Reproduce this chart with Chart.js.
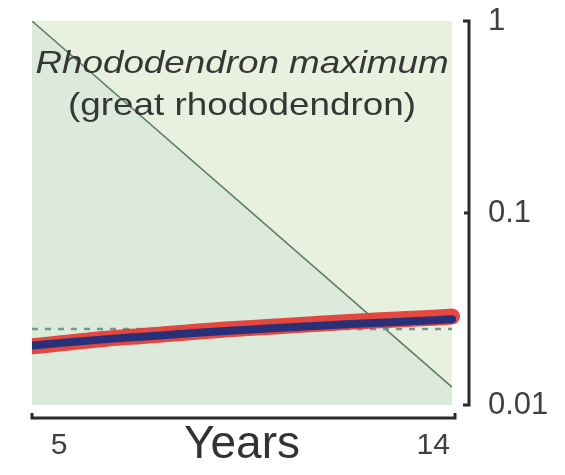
<!DOCTYPE html>
<html>
<head>
<meta charset="utf-8">
<title>Rhododendron maximum</title>
<script src="https://cdn.jsdelivr.net/npm/chart.js@4/dist/chart.umd.min.js"></script>
<style>
  html, body { margin: 0; padding: 0; background: #ffffff; }
  #wrap { width: 565px; height: 475px; position: relative; }
</style>
</head>
<body>
<div id="wrap"><canvas id="chart" width="565" height="475"></canvas></div>
<script>
// Years sampled along the horizontal axis
const years = [4.35, 5, 6, 7, 8, 9, 10, 11, 12, 13, 14, 14.45];
// Red curve (wide band)
const redRate = [0.0202, 0.0209, 0.0220, 0.0229, 0.0238, 0.0247, 0.0255, 0.0263, 0.0271, 0.0278, 0.0285, 0.0289];
// Navy curve (drawn inside the red band)
const navyRate = [0.0204, 0.0210, 0.0219, 0.0227, 0.0235, 0.0243, 0.0250, 0.0257, 0.0264, 0.0270, 0.0276, 0.0280];
// Dashed reference level
const referenceLevel = 0.0249;
// Straight (exponential) decline across the year range
const declineYears = [4.35, 14.45];
const declineValues = [1.0, 0.0124];
// Axis ticks
const xTicks = [5, 14];
const yTicks = [1, 0.1, 0.01];
const yTickLabels = ['1', '0.1', '0.01'];
// Plot annotation
const speciesName = 'Rhododendron maximum';
const commonName = '(great rhododendron)';
const xTitle = 'Years';

const FONT = "'Liberation Sans', Arial, Helvetica, sans-serif";
const AXIS_COLOR = '#2a2a2a';

const toPoints = (xs, ys) => xs.map((x, i) => ({ x: x, y: ys[i] }));

// Pale green panel behind the data
const panelBackground = {
  id: 'panelBackground',
  beforeDatasetsDraw(chart) {
    const { ctx, chartArea: a } = chart;
    ctx.save();
    ctx.fillStyle = '#e8f1df';
    ctx.fillRect(a.left, a.top, a.right - a.left, a.bottom - a.top);
    ctx.restore();
  }
};

// Axis lines set slightly apart from the panel, with end caps
const detachedAxes = {
  id: 'detachedAxes',
  afterDraw(chart) {
    const { ctx, chartArea: a } = chart;
    const xs = chart.scales.x, ys = chart.scales.y;
    ctx.save();
    ctx.strokeStyle = AXIS_COLOR;
    ctx.lineWidth = 3;
    ctx.lineCap = 'butt';
    ctx.lineJoin = 'miter';

    // bottom axis
    const yb = a.bottom + 13;
    const x0 = xs.getPixelForValue(xs.min);
    const x1 = xs.getPixelForValue(xs.max) + 3;
    ctx.beginPath();
    ctx.moveTo(x0, yb - 5);
    ctx.lineTo(x0, yb);
    ctx.lineTo(x1, yb);
    ctx.lineTo(x1, yb - 5);
    ctx.stroke();

    // right axis
    const xr = a.right + 17;
    const yTop = ys.getPixelForValue(yTicks[0]);
    const yBot = ys.getPixelForValue(yTicks[yTicks.length - 1]);
    ctx.beginPath();
    ctx.moveTo(xr - 6, yTop);
    ctx.lineTo(xr, yTop);
    ctx.lineTo(xr, yBot);
    ctx.lineTo(xr - 6, yBot);
    ctx.stroke();
    for (let i = 1; i < yTicks.length - 1; i++) {
      const yy = ys.getPixelForValue(yTicks[i]);
      ctx.beginPath();
      ctx.moveTo(xr - 5, yy);
      ctx.lineTo(xr, yy);
      ctx.stroke();
    }
    ctx.restore();
  }
};

// Species name inside the panel
const speciesLabel = {
  id: 'speciesLabel',
  afterDatasetsDraw(chart) {
    const { ctx, chartArea: a } = chart;
    const cx = (a.left + a.right) / 2;
    ctx.save();
    ctx.fillStyle = '#363636';
    ctx.textAlign = 'center';
    ctx.textBaseline = 'alphabetic';

    ctx.save();
    ctx.translate(cx, a.top + 52);
    ctx.scale(1.15, 1);
    ctx.font = 'italic 32px ' + FONT;
    ctx.fillText(speciesName, 0, 0);
    ctx.restore();

    ctx.save();
    ctx.translate(cx, a.top + 94);
    ctx.scale(1.15, 1);
    ctx.font = '32px ' + FONT;
    ctx.fillText(commonName, 0, 0);
    ctx.restore();

    ctx.restore();
  }
};

new Chart(document.getElementById('chart'), {
  type: 'line',
  data: {
    datasets: [
      {
        label: 'navy',
        data: toPoints(years, navyRate),
        borderColor: '#29307a',
        borderWidth: 8,
        borderCapStyle: 'round',
        cubicInterpolationMode: 'monotone',
        pointRadius: 0,
        fill: false,
        clip: { left: 0, top: 0, right: 12, bottom: 0 },
        order: 0
      },
      {
        label: 'red',
        data: toPoints(years, redRate),
        borderColor: 'rgba(228, 62, 54, 0.95)',
        borderWidth: 16,
        borderCapStyle: 'round',
        cubicInterpolationMode: 'monotone',
        pointRadius: 0,
        fill: false,
        clip: { left: 0, top: 0, right: 12, bottom: 0 },
        order: 1
      },
      {
        label: 'reference',
        data: toPoints(declineYears, declineYears.map(() => referenceLevel)),
        borderColor: '#6f9891',
        borderWidth: 2.5,
        borderDash: [6, 7],
        pointRadius: 0,
        fill: false,
        order: 2
      },
      {
        label: 'decline',
        data: toPoints(declineYears, declineValues),
        borderColor: '#5f7d66',
        borderWidth: 1.5,
        backgroundColor: '#dbeadb',
        pointRadius: 0,
        fill: 'start',
        order: 3
      }
    ]
  },
  options: {
    responsive: false,
    animation: false,
    devicePixelRatio: 1,
    layout: { autoPadding: false, padding: { left: 32, top: 21, right: 0, bottom: 0 } },
    plugins: {
      legend: { display: false },
      tooltip: { enabled: false },
      title: { display: false }
    },
    scales: {
      x: {
        type: 'linear',
        position: 'bottom',
        min: declineYears[0],
        max: declineYears[1],
        border: { display: false },
        grid: { display: false, drawTicks: false },
        afterBuildTicks(scale) { scale.ticks = xTicks.map(v => ({ value: v })); },
        afterFit(scale) {
          scale.height = 70;
          scale.paddingLeft = scale.paddingRight = 0;
        },
        ticks: {
          autoSkip: false,
          maxRotation: 0,
          padding: 23,
          color: '#404040',
          font: { family: FONT, size: 30 },
          callback: v => String(v)
        },
        title: {
          display: true,
          text: xTitle,
          color: '#333333',
          font: { family: FONT, size: 46 },
          padding: { top: 0, bottom: 2 }
        }
      },
      y: {
        type: 'logarithmic',
        position: 'right',
        min: yTicks[yTicks.length - 1],
        max: yTicks[0],
        border: { display: false },
        grid: { display: false, drawTicks: false },
        afterBuildTicks(scale) { scale.ticks = yTicks.map(v => ({ value: v })); },
        afterFit(scale) {
          scale.width = 113;
          scale.paddingTop = scale.paddingBottom = 0;
        },
        ticks: {
          autoSkip: false,
          padding: 36,
          color: '#404040',
          font: { family: FONT, size: 31 },
          callback: (v) => yTickLabels[yTicks.indexOf(v)] ?? ''
        }
      }
    }
  },
  plugins: [panelBackground, detachedAxes, speciesLabel]
});
</script>
</body>
</html>
